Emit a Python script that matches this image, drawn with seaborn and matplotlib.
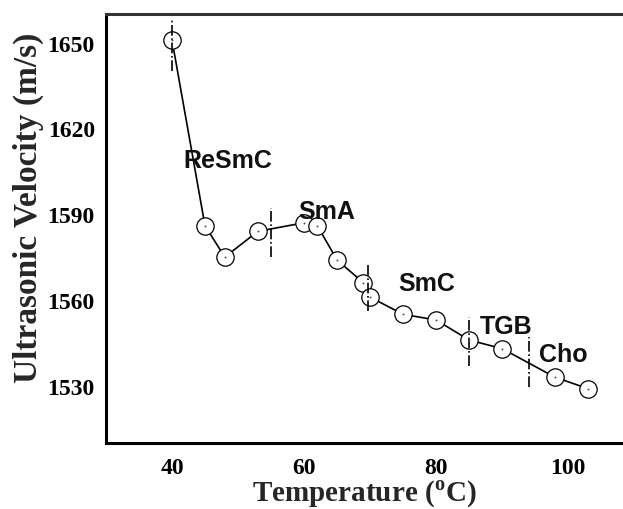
import matplotlib
matplotlib.use('Agg')
import matplotlib.pyplot as plt
import seaborn as sns
import pandas as pd

# data
temperature = [40, 45, 48, 53, 60, 62, 65, 69, 70, 75, 80, 85, 90, 98, 103]
velocity = [1651, 1586, 1575, 1584, 1587, 1586, 1574, 1566, 1561, 1555, 1553, 1546, 1543, 1533, 1529]

# phase boundaries (x, y_low, y_high)
boundary_x = [40, 55, 69.7, 85, 94]
boundary_lo = [1640, 1575, 1556, 1537, 1529.5]
boundary_hi = [1658, 1592, 1573, 1554, 1547]

phase_names = ['ReSmC', 'SmA', 'SmC', 'TGB', 'Cho']
phase_x = [48.5, 63.5, 78.6, 90.6, 99.3]
phase_y = [1609, 1591, 1566, 1551, 1541]

df = pd.DataFrame({'T': temperature, 'v': velocity})

sns.set_style('white')
plt.rcParams['mathtext.fontset'] = 'custom'
plt.rcParams['mathtext.rm'] = 'Liberation Serif:bold'
plt.rcParams['mathtext.bf'] = 'Liberation Serif:bold'

fig = plt.figure(figsize=(6.23, 5.10), dpi=100)
ax = fig.add_axes([0.170, 0.1294, 0.830, 0.8412])

sns.lineplot(data=df, x='T', y='v', sort=False, color='black', linewidth=1.2,
             marker='o', markersize=12.5, markerfacecolor='white',
             markeredgecolor='black', markeredgewidth=0.9, ax=ax)
sns.scatterplot(data=df, x='T', y='v', s=2, color='#555555', linewidth=0, ax=ax, zorder=4)

for bx, lo, hi in zip(boundary_x, boundary_lo, boundary_hi):
    ax.plot([bx, bx], [lo, hi], color='black', linestyle='-.', linewidth=1.2)

for name, px, py in zip(phase_names, phase_x, phase_y):
    ax.text(px, py, name, ha='center', va='center', fontsize=18,
            fontweight='bold', family='Liberation Sans', color='#111111')

ax.set_xlim(30, 108.3)
ax.set_ylim(1510, 1660)
ax.set_xticks([40, 60, 80, 100])
ax.set_yticks([1530, 1560, 1590, 1620, 1650])

for lab in ax.get_xticklabels() + ax.get_yticklabels():
    lab.set_family('Liberation Serif')
    lab.set_fontweight('bold')
    lab.set_fontsize(17)

ax.tick_params(direction='in', length=7, width=2, colors='black')
ax.tick_params(axis='y', pad=8)
ax.tick_params(axis='x', pad=10)
ax.set_xlabel(r'Temperature ($^{\rm o}$C)', fontsize=21, fontweight='bold',
              family='Liberation Serif', labelpad=0)
ax.set_ylabel('Ultrasonic Velocity (m/s)', fontsize=24, fontweight='bold',
              family='Liberation Serif')
ax.yaxis.set_label_coords(-0.12, 0.55)

for side in ['left', 'bottom', 'top']:
    ax.spines[side].set_color('black')
    ax.spines[side].set_linewidth(2.2)
ax.spines['top'].set_color('#333333')
ax.spines['right'].set_visible(False)

fig.savefig('out.png', dpi=100)
